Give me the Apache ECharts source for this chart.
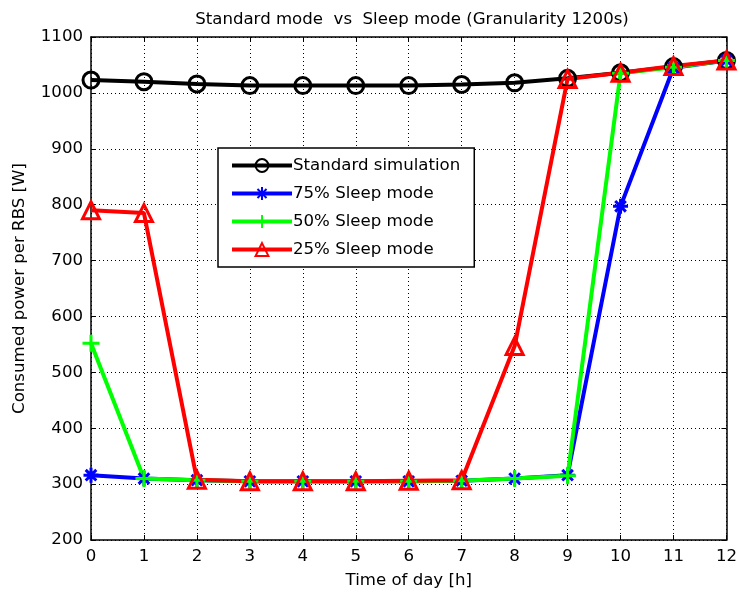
<!DOCTYPE html>
<html>
<head>
<meta charset="utf-8">
<script src="https://cdn.jsdelivr.net/npm/echarts@6/dist/echarts.min.js"></script>
<style>
  html, body { margin: 0; padding: 0; background: #fff; }
  #chart { width: 740px; height: 597px; }
</style>
</head>
<body>
<div id="chart"></div>
<script>
// Time of day (hours)
const hours = [0, 1, 2, 3, 4, 5, 6, 7, 8, 9, 10, 11, 12];

// Consumed power per RBS [W]
const standardSim = [1023, 1020, 1016, 1013, 1013, 1013, 1013, 1015, 1018, 1026, 1036, 1047, 1058];
const sleep75 = [316, 310, 307, 305, 305, 305, 305, 306, 310, 316, 797, 1045, 1058];
const sleep50 = [552, 310, 307, 305, 305, 305, 305, 306, 310, 315, 1035, 1046, 1058];
const sleep25 = [790, 785, 308, 305, 305, 305, 306, 307, 547, 1025, 1036, 1048, 1058];

const seriesNames = ['Standard simulation', '75% Sleep mode', '50% Sleep mode', '25% Sleep mode'];
const yTicks = [200, 300, 400, 500, 600, 700, 800, 900, 1000, 1100];

const FONT = 'DejaVu Sans, sans-serif';
const FS = 16.6;

const asterisk = 'path://M0,-10L0,10M-10,0L10,0M-7.07,-7.07L7.07,7.07M-7.07,7.07L7.07,-7.07';
const plus = 'path://M0,-10L0,10M-10,0L10,0';

function pairs(vals) {
  return hours.map((h, i) => [h, vals[i]]);
}

function lineSeries(name, vals, color, symbol, size) {
  return {
    name: name,
    type: 'line',
    data: pairs(vals),
    symbol: symbol,
    symbolSize: size,
    showAllSymbol: true,
    lineStyle: { color: color, width: 4 },
    itemStyle: { color: 'rgba(0,0,0,0)', borderColor: color, borderWidth: 3 },
    emphasis: { disabled: true },
    animation: false
  };
}

const chart = echarts.init(document.getElementById('chart'), null, { renderer: 'canvas' });

const gridLine = { show: true, lineStyle: { color: '#000', type: [1, 3], width: 1 } };

chart.setOption({
  backgroundColor: '#fff',
  animation: false,
  title: {
    text: 'Standard mode  vs  Sleep mode (Granularity 1200s)',
    left: 407,
    top: 6,
    textAlign: 'center',
    textStyle: { fontFamily: FONT, fontSize: FS, fontWeight: 'normal', color: '#000' }
  },
  grid: { left: 91, right: 12, top: 37, bottom: 57, show: false },
  legend: {
    data: seriesNames,
    orient: 'vertical',
    left: 218,
    top: 148,
    itemWidth: 60,
    itemHeight: 16,
    itemGap: 11,
    padding: [9, 14, 9, 12],
    backgroundColor: '#fff',
    borderColor: '#000',
    borderWidth: 1.5,
    borderRadius: 0,
    selectedMode: false,
    lineStyle: { width: 4 },
    textStyle: { fontFamily: FONT, fontSize: FS, color: '#000', padding: [0, 0, 0, -4] }
  },
  xAxis: [{
    type: 'value',
    min: 0, max: 12, interval: 1,
    name: 'Time of day [h]',
    nameLocation: 'middle',
    nameGap: 32,
    nameTextStyle: { fontFamily: FONT, fontSize: FS, color: '#000' },
    axisLine: { show: true, onZero: false, lineStyle: { color: '#000', width: 1.5 } },
    axisTick: { show: true, inside: true, length: 5, lineStyle: { color: '#000' } },
    axisLabel: { fontFamily: FONT, fontSize: FS, color: '#000', margin: 8 },
    splitLine: gridLine
  }, {
    type: 'value',
    position: 'top',
    min: 0, max: 12, interval: 1,
    axisLine: { show: true, onZero: false, lineStyle: { color: '#000', width: 1.5 } },
    axisTick: { show: true, inside: true, length: 5, lineStyle: { color: '#000' } },
    axisLabel: { show: false },
    splitLine: { show: false }
  }],
  yAxis: [{
    type: 'value',
    min: yTicks[0], max: yTicks[yTicks.length - 1], interval: 100,
    name: 'Consumed power per RBS [W]',
    nameLocation: 'middle',
    nameGap: 63,
    nameTextStyle: { fontFamily: FONT, fontSize: FS, color: '#000' },
    axisLine: { show: true, onZero: false, lineStyle: { color: '#000', width: 1.5 } },
    axisTick: { show: true, inside: true, length: 5, lineStyle: { color: '#000' } },
    axisLabel: { fontFamily: FONT, fontSize: FS, color: '#000', margin: 8, formatter: v => String(v) },
    splitLine: gridLine
  }, {
    type: 'value',
    position: 'right',
    min: yTicks[0], max: yTicks[yTicks.length - 1], interval: 100,
    axisLine: { show: true, onZero: false, lineStyle: { color: '#000', width: 1.5 } },
    axisTick: { show: true, inside: true, length: 5, lineStyle: { color: '#000' } },
    axisLabel: { show: false },
    splitLine: { show: false }
  }],
  series: [
    lineSeries(seriesNames[0], standardSim, '#000000', 'circle', 16),
    lineSeries(seriesNames[1], sleep75, '#0000ff', asterisk, 15),
    lineSeries(seriesNames[2], sleep50, '#00ff00', plus, 17),
    lineSeries(seriesNames[3], sleep25, '#ff0000', 'triangle', 17)
  ]
});
</script>
</body>
</html>
